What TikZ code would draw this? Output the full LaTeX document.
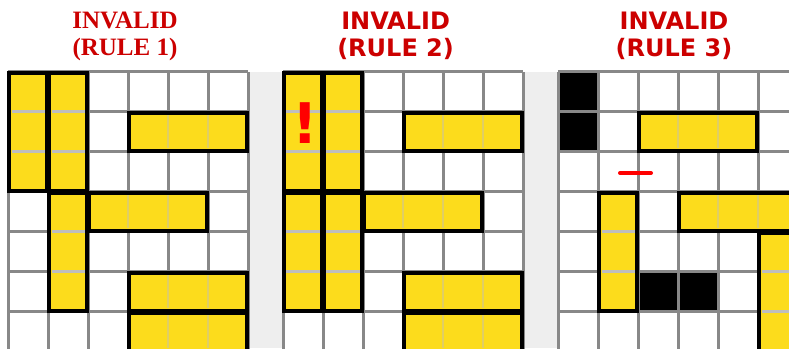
\documentclass[tikz,border=0pt]{standalone}
\usepackage{fontspec}
\setmainfont{Liberation Serif}
\newfontfamily\titlesans{DejaVu Sans}
\usetikzlibrary{positioning}

\definecolor{pieceyellow}{HTML}{FCDC1C}
\definecolor{titlered}{HTML}{CC0000}
\definecolor{gapgray}{HTML}{EEEEEE}
\definecolor{gridgray}{HTML}{888888}
\definecolor{seamgray}{HTML}{BEBEBE}

\tikzset{
  gridline/.style={draw=gridgray,line width=3pt,step={(1,1)}},
  piece/.style={fill=pieceyellow,draw=black,line width=4pt},
  seam/.style={draw=seamgray,line width=2.5pt},
  faintseam/.style={draw=seamgray,line width=2pt,opacity=0.45},
  wall/.style={fill=black},
  title/.style={text=titlered,inner sep=0pt,anchor=north,align=center},
}

% piece from top-left (#1,#2) to bottom-right (#3,#4), border kept inside
\newcommand{\drawpiece}[4]{%
  \draw[piece] ([shift={(1pt,-1pt)}]#1,#2) rectangle ([shift={(-1pt,1pt)}]#3,#4);}

\begin{document}
\begin{tikzpicture}[x=40pt,y=40pt]
  \clip (0,0) rectangle (19.725,8.7);
  \fill[white] (0,0) rectangle (19.725,8.7);
  \fill[gapgray] (6.21,0) rectangle (7.08,6.91);
  \fill[gapgray] (13.08,0) rectangle (13.96,6.91);

  \node[title,font=\fontsize{25}{27}\selectfont\bfseries] (title1) at (3.125,8.4)
    {INVALID\\(RULE 1)};
  \node[title,font=\titlesans\bfseries\fontsize{24}{27}\selectfont] (title2) at (9.89,8.4)
    {INVALID\\(RULE 2)};
  \node[title,font=\titlesans\bfseries\fontsize{24}{27}\selectfont] (title3) at (16.85,8.4)
    {INVALID\\(RULE 3)};

  % rule 1
  \begin{scope}[shift={(0.21,6.91)}]
    \fill[white] (0,0) rectangle (6,-7);
    \draw[gridline] (0,0) grid (6,-7);
    \drawpiece{0}{0}{1}{-3}
    \drawpiece{1}{0}{2}{-3}
    \drawpiece{1}{-3}{2}{-6}
    \drawpiece{3}{-1}{6}{-2}
    \drawpiece{2}{-3}{5}{-4}
    \drawpiece{3}{-5}{6}{-6}
    \drawpiece{3}{-6}{6}{-7}
    \foreach \c/\r in {0/1,0/2,1/1,1/2,1/4,1/5}
      \draw[seam] (\c+0.08,-\r) -- (\c+0.92,-\r);
    \foreach \r/\c in {1/4,1/5,3/3,3/4,5/4,5/5,6/4,6/5}
      \draw[faintseam] (\c,-\r-0.08) -- (\c,-\r-0.92);
  \end{scope}

  % rule 2
  \begin{scope}[shift={(7.08,6.91)}]
    \fill[white] (0,0) rectangle (6,-7);
    \draw[gridline] (0,0) grid (6,-7);
    \drawpiece{0}{0}{1}{-3}
    \drawpiece{1}{0}{2}{-3}
    \drawpiece{0}{-3}{1}{-6}
    \drawpiece{1}{-3}{2}{-6}
    \drawpiece{3}{-1}{6}{-2}
    \drawpiece{2}{-3}{5}{-4}
    \drawpiece{3}{-5}{6}{-6}
    \drawpiece{3}{-6}{6}{-7}
    \foreach \c/\r in {0/1,0/2,0/4,0/5,1/1,1/2,1/4,1/5}
      \draw[seam] (\c+0.08,-\r) -- (\c+0.92,-\r);
    \foreach \r/\c in {1/4,1/5,3/3,3/4,5/4,5/5,6/4,6/5}
      \draw[faintseam] (\c,-\r-0.08) -- (\c,-\r-0.92);
    \node[text=red,font=\titlesans\bfseries\fontsize{56}{56}\selectfont,inner sep=0pt]
      (mark) at (0.54,-1.28) {!};
  \end{scope}

  % rule 3
  \begin{scope}[shift={(13.96,6.91)}]
    \fill[white] (0,0) rectangle (6,-7);
    \draw[gridline] (0,0) grid (6,-7);
    \foreach \c/\r in {0/0,0/1,2/5,3/5}
      \fill[wall] (\c+0.035,-\r-0.035) rectangle (\c+0.965,-\r-0.965);
    \drawpiece{2}{-1}{5}{-2}
    \drawpiece{1}{-3}{2}{-6}
    \drawpiece{3}{-3}{6}{-4}
    \drawpiece{5}{-4}{6}{-7}
    \foreach \c/\r in {1/4,1/5,5/5,5/6}
      \draw[seam] (\c+0.08,-\r) -- (\c+0.92,-\r);
    \foreach \r/\c in {1/3,1/4,3/4,3/5}
      \draw[faintseam] (\c,-\r-0.08) -- (\c,-\r-0.92);
    \draw[red,line width=4pt,line cap=round] (1.54,-2.535) -- (2.315,-2.535);
  \end{scope}
\end{tikzpicture}
\end{document}
